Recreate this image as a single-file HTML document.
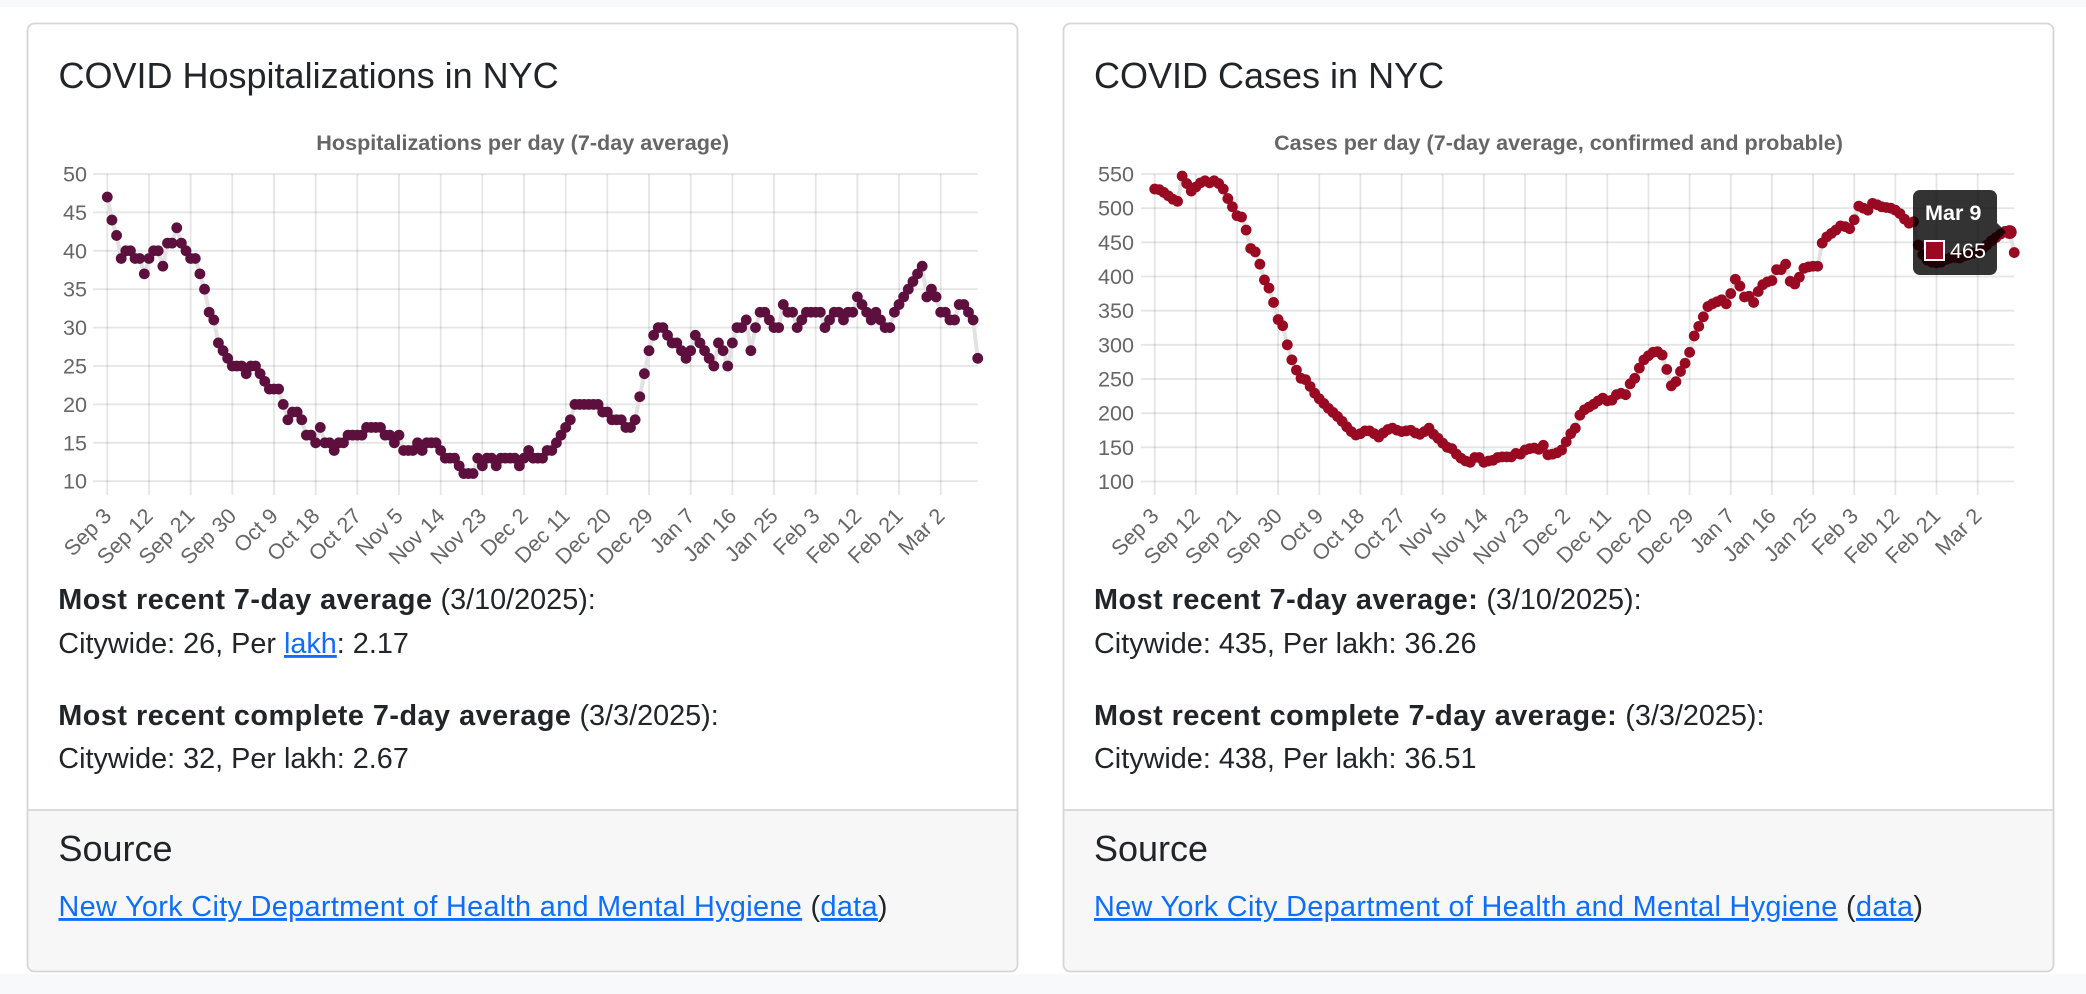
<!DOCTYPE html>
<html>
<head>
<meta charset="utf-8">
<style>
  html,body{margin:0;padding:0;}
  body{width:2086px;height:994px;overflow:hidden;background:#f8f9fa;}
  svg{display:block;}
  .t{font-family:"Liberation Sans",Arial,sans-serif;}
  .tick{font-size:21.6px;fill:#666;}
  .ctitle{font-size:21.6px;font-weight:bold;fill:#666;}
  .h5{font-size:36px;fill:#212529;}
  .body{font-size:28.8px;fill:#212529;}
  .b{font-weight:bold;letter-spacing:0.5px;}
  .lnk{fill:#0d6efd;text-decoration:underline;}
  .src{letter-spacing:0.35px;}
</style>
</head>
<body>
<svg width="2086" height="994" viewBox="0 0 2086 994" xmlns="http://www.w3.org/2000/svg">
  <defs>
    <marker id="mh" markerUnits="userSpaceOnUse" markerWidth="20" markerHeight="20" refX="0" refY="0" overflow="visible">
      <ellipse cx="0" cy="0" rx="1.166" ry="0.703" fill="#5d0f3d"/>
    </marker>
    <marker id="mc" markerUnits="userSpaceOnUse" markerWidth="20" markerHeight="20" refX="0" refY="0" overflow="visible">
      <ellipse cx="0" cy="0" rx="1.181" ry="7.90" fill="#990a22"/>
    </marker>
  </defs>

  <rect x="0" y="7" width="2086" height="967" fill="#ffffff"/>

  <!-- LEFT CARD -->
  <rect x="27.5" y="23.5" width="990" height="948" rx="7" fill="#ffffff"/>
  <path d="M27.5 810 H1017.5 V964.5 A7 7 0 0 1 1010.5 971.5 H34.5 A7 7 0 0 1 27.5 964.5 Z" fill="#f7f7f7"/>
  <line x1="27.5" y1="810" x2="1017.5" y2="810" stroke="#d6d6d6" stroke-width="1.8"/>
  <rect x="27.5" y="23.5" width="990" height="948" rx="7" fill="none" stroke="#d6d6d6" stroke-width="1.8"/>

  <text class="t h5" x="58.5" y="88">COVID Hospitalizations in NYC</text>
  <text class="t ctitle" x="522.7" y="150" text-anchor="middle">Hospitalizations per day (7-day average)</text>

  <!-- left grid -->
  <path d="M93 174H977.7M93 212.4H977.7M93 250.8H977.7M93 289.2H977.7M93 327.6H977.7M93 366H977.7M93 404.4H977.7M93 442.8H977.7M93 481.2H977.7" stroke="#000" stroke-opacity="0.1" stroke-width="1.8" fill="none"/>
  <path d="M107.3 174V495M149 174V495M190.6 174V495M232.3 174V495M274 174V495M315.7 174V495M357.3 174V495M399 174V495M440.7 174V495M482.3 174V495M524 174V495M565.7 174V495M607.3 174V495M649 174V495M690.7 174V495M732.4 174V495M774 174V495M815.7 174V495M857.4 174V495M899 174V495M940.7 174V495" stroke="#000" stroke-opacity="0.1" stroke-width="1.8" fill="none"/>

  <g class="t tick" text-anchor="end" dominant-baseline="central">
    <text x="87" y="174">50</text>
    <text x="87" y="212.4">45</text>
    <text x="87" y="250.8">40</text>
    <text x="87" y="289.2">35</text>
    <text x="87" y="327.6">30</text>
    <text x="87" y="366">25</text>
    <text x="87" y="404.4">20</text>
    <text x="87" y="442.8">15</text>
    <text x="87" y="481.2">10</text>
  </g>
  <g class="t tick" text-anchor="end" dominant-baseline="central">
    <text transform="translate(107.3,512) rotate(-45)">Sep 3</text>
    <text transform="translate(149,512) rotate(-45)">Sep 12</text>
    <text transform="translate(190.6,512) rotate(-45)">Sep 21</text>
    <text transform="translate(232.3,512) rotate(-45)">Sep 30</text>
    <text transform="translate(274,512) rotate(-45)">Oct 9</text>
    <text transform="translate(315.7,512) rotate(-45)">Oct 18</text>
    <text transform="translate(357.3,512) rotate(-45)">Oct 27</text>
    <text transform="translate(399,512) rotate(-45)">Nov 5</text>
    <text transform="translate(440.7,512) rotate(-45)">Nov 14</text>
    <text transform="translate(482.3,512) rotate(-45)">Nov 23</text>
    <text transform="translate(524,512) rotate(-45)">Dec 2</text>
    <text transform="translate(565.7,512) rotate(-45)">Dec 11</text>
    <text transform="translate(607.3,512) rotate(-45)">Dec 20</text>
    <text transform="translate(649,512) rotate(-45)">Dec 29</text>
    <text transform="translate(690.7,512) rotate(-45)">Jan 7</text>
    <text transform="translate(732.4,512) rotate(-45)">Jan 16</text>
    <text transform="translate(774,512) rotate(-45)">Jan 25</text>
    <text transform="translate(815.7,512) rotate(-45)">Feb 3</text>
    <text transform="translate(857.4,512) rotate(-45)">Feb 12</text>
    <text transform="translate(899,512) rotate(-45)">Feb 21</text>
    <text transform="translate(940.7,512) rotate(-45)">Mar 2</text>
  </g>

  <polyline transform="translate(107.3,558) scale(4.63,-7.68)" fill="none" stroke="#e2e2e2" stroke-width="4" vector-effect="non-scaling-stroke" stroke-linejoin="round"
    marker-start="url(#mh)" marker-mid="url(#mh)" marker-end="url(#mh)"
    points="0,47 1,44 2,42 3,39 4,40 5,40 6,39 7,39 8,37 9,39 10,40 11,40 12,38 13,41 14,41 15,43 16,41 17,40 18,39 19,39 20,37 21,35 22,32 23,31 24,28 25,27 26,26 27,25 28,25 29,25 30,24 31,25 32,25 33,24 34,23 35,22 36,22 37,22 38,20 39,18 40,19 41,19 42,18 43,16 44,16 45,15 46,17 47,15 48,15 49,14 50,15 51,15 52,16 53,16 54,16 55,16 56,17 57,17 58,17 59,17 60,16 61,16 62,15 63,16 64,14 65,14 66,14 67,15 68,14 69,15 70,15 71,15 72,14 73,13 74,13 75,13 76,12 77,11 78,11 79,11 80,13 81,12 82,13 83,13 84,12 85,13 86,13 87,13 88,13 89,12 90,13 91,14 92,13 93,13 94,13 95,14 96,14 97,15 98,16 99,17 100,18 101,20 102,20 103,20 104,20 105,20 106,20 107,19 108,19 109,18 110,18 111,18 112,17 113,17 114,18 115,21 116,24 117,27 118,29 119,30 120,30 121,29 122,28 123,28 124,27 125,26 126,27 127,29 128,28 129,27 130,26 131,25 132,28 133,27 134,25 135,28 136,30 137,30 138,31 139,27 140,30 141,32 142,32 143,31 144,30 145,30 146,33 147,32 148,32 149,30 150,31 151,32 152,32 153,32 154,32 155,30 156,31 157,32 158,32 159,31 160,32 161,32 162,34 163,33 164,32 165,31 166,32 167,31 168,30 169,30 170,32 171,33 172,34 173,35 174,36 175,37 176,38 177,34 178,35 179,34 180,32 181,32 182,31 183,31 184,33 185,33 186,32 187,31 188,26"/>

  <text class="t body" x="58.3" y="609"><tspan class="b">Most recent 7-day average</tspan> (3/10/2025):</text>
  <text class="t body" x="58.3" y="653">Citywide: 26, Per <tspan class="lnk">lakh</tspan>: 2.17</text>
  <text class="t body" x="58.3" y="725"><tspan class="b">Most recent complete 7-day average</tspan> (3/3/2025):</text>
  <text class="t body" x="58.3" y="768">Citywide: 32, Per lakh: 2.67</text>

  <text class="t h5" x="58.5" y="861">Source</text>
  <text class="t body src" x="58.5" y="916"><tspan class="lnk">New York City Department of Health and Mental Hygiene</tspan> (<tspan class="lnk">data</tspan>)</text>

  <!-- RIGHT CARD -->
  <rect x="1063.5" y="23.5" width="990" height="948" rx="7" fill="#ffffff"/>
  <path d="M1063.5 810 H2053.5 V964.5 A7 7 0 0 1 2046.5 971.5 H1070.5 A7 7 0 0 1 1063.5 964.5 Z" fill="#f7f7f7"/>
  <line x1="1063.5" y1="810" x2="2053.5" y2="810" stroke="#d6d6d6" stroke-width="1.8"/>
  <rect x="1063.5" y="23.5" width="990" height="948" rx="7" fill="none" stroke="#d6d6d6" stroke-width="1.8"/>

  <text class="t h5" x="1094" y="88">COVID Cases in NYC</text>
  <text class="t ctitle" x="1558.5" y="150" text-anchor="middle">Cases per day (7-day average, confirmed and probable)</text>

  <path d="M1141 174H2014.2M1141 208.2H2014.2M1141 242.3H2014.2M1141 276.5H2014.2M1141 310.7H2014.2M1141 344.8H2014.2M1141 379H2014.2M1141 413.2H2014.2M1141 447.3H2014.2M1141 481.5H2014.2" stroke="#000" stroke-opacity="0.1" stroke-width="1.8" fill="none"/>
  <path d="M1154.7 174V495M1195.8 174V495M1237 174V495M1278.1 174V495M1319.3 174V495M1360.4 174V495M1401.6 174V495M1442.7 174V495M1483.9 174V495M1525 174V495M1566.2 174V495M1607.3 174V495M1648.5 174V495M1689.6 174V495M1730.8 174V495M1771.9 174V495M1813.1 174V495M1854.2 174V495M1895.4 174V495M1936.5 174V495M1977.7 174V495" stroke="#000" stroke-opacity="0.1" stroke-width="1.8" fill="none"/>

  <g class="t tick" text-anchor="end" dominant-baseline="central">
    <text x="1134" y="174">550</text>
    <text x="1134" y="208.2">500</text>
    <text x="1134" y="242.3">450</text>
    <text x="1134" y="276.5">400</text>
    <text x="1134" y="310.7">350</text>
    <text x="1134" y="344.8">300</text>
    <text x="1134" y="379">250</text>
    <text x="1134" y="413.2">200</text>
    <text x="1134" y="447.3">150</text>
    <text x="1134" y="481.5">100</text>
  </g>
  <g class="t tick" text-anchor="end" dominant-baseline="central">
    <text transform="translate(1154.7,512) rotate(-45)">Sep 3</text>
    <text transform="translate(1195.8,512) rotate(-45)">Sep 12</text>
    <text transform="translate(1237,512) rotate(-45)">Sep 21</text>
    <text transform="translate(1278.1,512) rotate(-45)">Sep 30</text>
    <text transform="translate(1319.3,512) rotate(-45)">Oct 9</text>
    <text transform="translate(1360.4,512) rotate(-45)">Oct 18</text>
    <text transform="translate(1401.6,512) rotate(-45)">Oct 27</text>
    <text transform="translate(1442.7,512) rotate(-45)">Nov 5</text>
    <text transform="translate(1483.9,512) rotate(-45)">Nov 14</text>
    <text transform="translate(1525,512) rotate(-45)">Nov 23</text>
    <text transform="translate(1566.2,512) rotate(-45)">Dec 2</text>
    <text transform="translate(1607.3,512) rotate(-45)">Dec 11</text>
    <text transform="translate(1648.5,512) rotate(-45)">Dec 20</text>
    <text transform="translate(1689.6,512) rotate(-45)">Dec 29</text>
    <text transform="translate(1730.8,512) rotate(-45)">Jan 7</text>
    <text transform="translate(1771.9,512) rotate(-45)">Jan 16</text>
    <text transform="translate(1813.1,512) rotate(-45)">Jan 25</text>
    <text transform="translate(1854.2,512) rotate(-45)">Feb 3</text>
    <text transform="translate(1895.4,512) rotate(-45)">Feb 12</text>
    <text transform="translate(1936.5,512) rotate(-45)">Feb 21</text>
    <text transform="translate(1977.7,512) rotate(-45)">Mar 2</text>
  </g>

  <polyline transform="translate(1154.7,549.8) scale(4.572,-0.6833)" fill="none" stroke="#e2e2e2" stroke-width="4" vector-effect="non-scaling-stroke" stroke-linejoin="round"
    marker-start="url(#mc)" marker-mid="url(#mc)" marker-end="url(#mc)"
    points="0,528 1,527 2,523 3,518 4,513 5,510 6,547 7,536 8,525 9,531 10,537 11,540 12,537 13,540 14,536 15,528 16,514 17,502 18,489 19,487 20,468 21,441 22,436 23,418 24,395 25,383 26,362 27,337 28,328 29,300 30,278 31,263 32,251 33,249 34,239 35,229 36,221 37,214 38,207 39,201 40,195 41,188 42,180 43,173 44,168 45,170 46,174 47,174 48,170 49,165 50,171 51,176 52,178 53,175 54,173 55,174 56,175 57,171 58,169 59,173 60,178 61,169 62,163 63,156 64,150 65,148 66,140 67,134 68,130 69,128 70,135 71,135 72,128 73,130 74,131 75,135 76,136 77,136 78,136 79,141 80,140 81,146 82,148 83,149 84,147 85,153 86,139 87,140 88,142 89,146 90,158 91,170 92,178 93,197 94,205 95,209 96,213 97,218 98,222 99,218 100,219 101,227 102,229 103,227 104,243 105,251 106,266 107,278 108,284 109,289 110,290 111,285 112,264 113,240 114,246 115,261 116,273 117,289 118,313 119,327 120,341 121,356 122,360 123,363 124,366 125,360 126,375 127,396 128,386 129,370 130,371 131,362 132,378 133,388 134,392 135,394 136,410 137,410 138,418 139,393 140,389 141,399 142,412 143,414 144,415 145,415 146,449 147,458 148,463 149,468 150,474 151,473 152,470 153,483 154,503 155,500 156,497 157,507 158,505 159,502 160,501 161,500 162,497 163,492 164,484 165,478 166,480 167,446 168,432 169,424 170,421 171,420 172,421 173,425 174,427 175,428 176,427 177,430 178,432 179,434 180,436 181,440 182,446 183,452 184,457 185,462 186,466 187,465 188,435"/>
  <circle cx="2009.7" cy="232.1" r="7" fill="#990a22"/>

  <!-- tooltip -->
  <path d="M1997 223 L2006 232 L1997 241 Z" fill="#000" fill-opacity="0.8"/>
  <rect x="1913" y="190" width="84" height="85" rx="7" fill="#000" fill-opacity="0.8"/>
  <text class="t" x="1925" y="220" font-size="21.6" font-weight="bold" fill="#fff">Mar 9</text>
  <rect x="1925" y="241" width="19" height="19" fill="#990a22" stroke="#fff" stroke-width="2"/>
  <text class="t" x="1950" y="258" font-size="21.6" fill="#fff">465</text>

  <text class="t body" x="1094" y="609"><tspan class="b">Most recent 7-day average:</tspan> (3/10/2025):</text>
  <text class="t body" x="1094" y="653">Citywide: 435, Per lakh: 36.26</text>
  <text class="t body" x="1094" y="725"><tspan class="b">Most recent complete 7-day average:</tspan> (3/3/2025):</text>
  <text class="t body" x="1094" y="768">Citywide: 438, Per lakh: 36.51</text>

  <text class="t h5" x="1094" y="861">Source</text>
  <text class="t body src" x="1094" y="916"><tspan class="lnk">New York City Department of Health and Mental Hygiene</tspan> (<tspan class="lnk">data</tspan>)</text>
</svg>
</body>
</html>
